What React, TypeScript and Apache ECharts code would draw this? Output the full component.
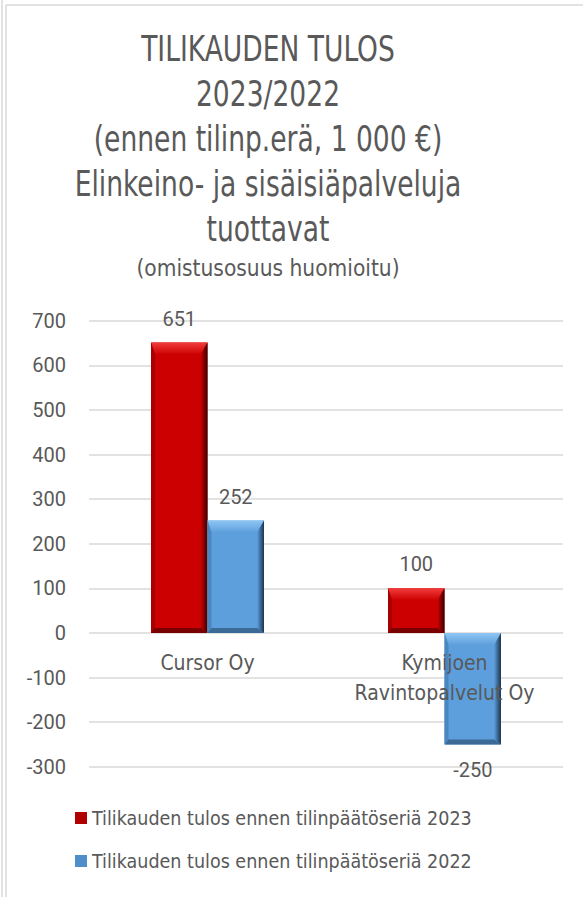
import React, { useEffect, useRef } from "react";
import * as echarts from "echarts";

const categories = ["Cursor Oy", "Kymijoen\nRavintopalvelut Oy"];
const series2023 = [651, 100];
const series2022 = [252, -250];
const seriesNames = [
  "Tilikauden tulos ennen tilinpäätöseriä 2023",
  "Tilikauden tulos ennen tilinpäätöseriä 2022",
];
const titleLines = [
  "TILIKAUDEN TULOS",
  "2023/2022",
  "(ennen tilinp.erä, 1 000 €)",
  "Elinkeino- ja sisäisiäpalveluja",
  "tuottavat",
];
const subtitleText = "(omistusosuus huomioitu)";
const yMin = -300;
const yMax = 700;
const yStep = 100;

const FONT = "'DejaVu Sans Condensed', 'DejaVu Sans', sans-serif";
const NUMFONT = "Roboto, sans-serif";
const TXT = "#595959";

const palettes = [
  { main: "#cc0000", light: "#f23c3c", left: "#a80000", right: "#3a0000", bottom: "#7a0000", legend: "#b00000" },
  { main: "#5d9fdc", light: "#8fc6f3", left: "#4a86c0", right: "#1b3550", bottom: "#3b6a96", legend: "#4f8fc9" },
];

function makeRender(seriesIndex: number) {
  const p = palettes[seriesIndex];
  return (params: any, api: any) => {
    const i = api.value(0);
    const v = api.value(1);
    const base = api.coord([i, 0]);
    const end = api.coord([i, v]);
    const band = api.size([1, 0])[0];
    const bw = band * 0.2384;
    const x0 = seriesIndex === 0 ? base[0] - bw : base[0];
    const x1 = x0 + bw;
    const y0 = Math.min(base[1], end[1]);
    const y1 = Math.max(base[1], end[1]);
    const bl = 4;
    const br = 7;
    const bt = 12;
    const bb = 5;
    const labelY = v >= 0 ? y0 - 14 : y1 + 16;
    return {
      type: "group",
      children: [
        { type: "rect", shape: { x: x0, y: y0, width: bw, height: y1 - y0 }, style: { fill: p.main } },
        {
          type: "polygon",
          shape: { points: [[x0, y0], [x1, y0], [x1 - br, y0 + bt], [x0 + bl, y0 + bt]] },
          style: {
            fill: new echarts.graphic.LinearGradient(0, 0, 0, 1, [
              { offset: 0, color: p.light },
              { offset: 1, color: p.main },
            ]),
          },
        },
        {
          type: "polygon",
          shape: { points: [[x0, y0], [x0 + bl, y0 + bt], [x0 + bl, y1 - bb], [x0, y1]] },
          style: { fill: p.left },
        },
        {
          type: "polygon",
          shape: { points: [[x1, y0], [x1, y1], [x1 - br, y1 - bb], [x1 - br, y0 + bt]] },
          style: {
            fill: new echarts.graphic.LinearGradient(0, 0, 1, 0, [
              { offset: 0, color: p.main },
              { offset: 1, color: p.right },
            ]),
          },
        },
        {
          type: "polygon",
          shape: { points: [[x0, y1], [x1, y1], [x1 - br, y1 - bb], [x0 + bl, y1 - bb]] },
          style: { fill: p.bottom },
        },
        {
          type: "text",
          x: (x0 + x1) / 2,
          y: labelY,
          style: {
            text: String(v),
            textAlign: "center",
            textVerticalAlign: v >= 0 ? "bottom" : "top",
            fill: TXT,
            fontFamily: NUMFONT,
            fontSize: 20,
          },
        },
      ],
    };
  };
}

export default function App() {
  const ref = useRef<HTMLDivElement>(null);
  useEffect(() => {
    if (!ref.current) return;
    const chart = echarts.init(ref.current, null, { renderer: "svg" });
    chart.setOption({
      animation: false,
      backgroundColor: "#ffffff",
      legend: {
        orient: "vertical",
        left: 70,
        top: 803,
        itemWidth: 12,
        itemHeight: 12,
        itemGap: 23,
        icon: "rect",
        textStyle: { fontFamily: FONT, fontSize: 19.5, color: TXT },
        data: seriesNames,
      },
      grid: { left: 89, right: 20, top: 320.7, height: 446, containLabel: false },
      xAxis: {
        type: "category",
        data: categories,
        z: 10,
        offset: -134.4,
        axisLine: { show: false },
        axisTick: { show: false },
        axisLabel: {
          color: TXT,
          fontFamily: FONT,
          fontSize: 21,
          lineHeight: 30,
          margin: 16,
          interval: 0,
        },
      },
      yAxis: {
        type: "value",
        min: yMin,
        max: yMax,
        interval: yStep,
        axisLine: { show: false },
        axisTick: { show: false },
        splitLine: { lineStyle: { color: "#d9d9d9", width: 1.5 } },
        axisLabel: {
          color: TXT,
          fontFamily: NUMFONT,
          fontSize: 20,
          margin: 23,
        },
      },
      series: [
        {
          name: seriesNames[0],
          type: "custom",
          renderItem: makeRender(0),
          itemStyle: { color: palettes[0].legend },
          encode: { x: 0, y: 1 },
          data: series2023.map((v, i) => [i, v]),
        },
        {
          name: seriesNames[1],
          type: "custom",
          renderItem: makeRender(1),
          itemStyle: { color: palettes[1].legend },
          encode: { x: 0, y: 1 },
          data: series2022.map((v, i) => [i, v]),
        },
      ],
      graphic: [
        { type: "line", shape: { x1: 2, y1: 0, x2: 2, y2: 897 }, style: { stroke: "#d9d9d9", lineWidth: 1.5 } },
        { type: "line", shape: { x1: 6, y1: 5, x2: 6, y2: 897 }, style: { stroke: "#d9d9d9", lineWidth: 1.5 } },
        { type: "line", shape: { x1: 6, y1: 5, x2: 583, y2: 5 }, style: { stroke: "#d9d9d9", lineWidth: 1.5 } },
        {
          type: "text",
          x: 268,
          y: 26,
          scaleX: 0.82,
          originX: 0,
          originY: 0,
          style: {
            text: titleLines.join("\n"),
            textAlign: "center",
            textVerticalAlign: "top",
            fill: TXT,
            fontFamily: FONT,
            fontSize: 36,
            lineHeight: 45,
          },
        },
        {
          type: "text",
          x: 268,
          y: 268,
          style: {
            text: subtitleText,
            textAlign: "center",
            textVerticalAlign: "middle",
            fill: TXT,
            fontFamily: FONT,
            fontSize: 22.5,
          },
        },
      ],
    });
    return () => chart.dispose();
  }, []);
  return (
    <div
      ref={ref}
      style={{ position: "absolute", left: 0, top: 0, width: 583, height: 897 }}
    />
  );
}
